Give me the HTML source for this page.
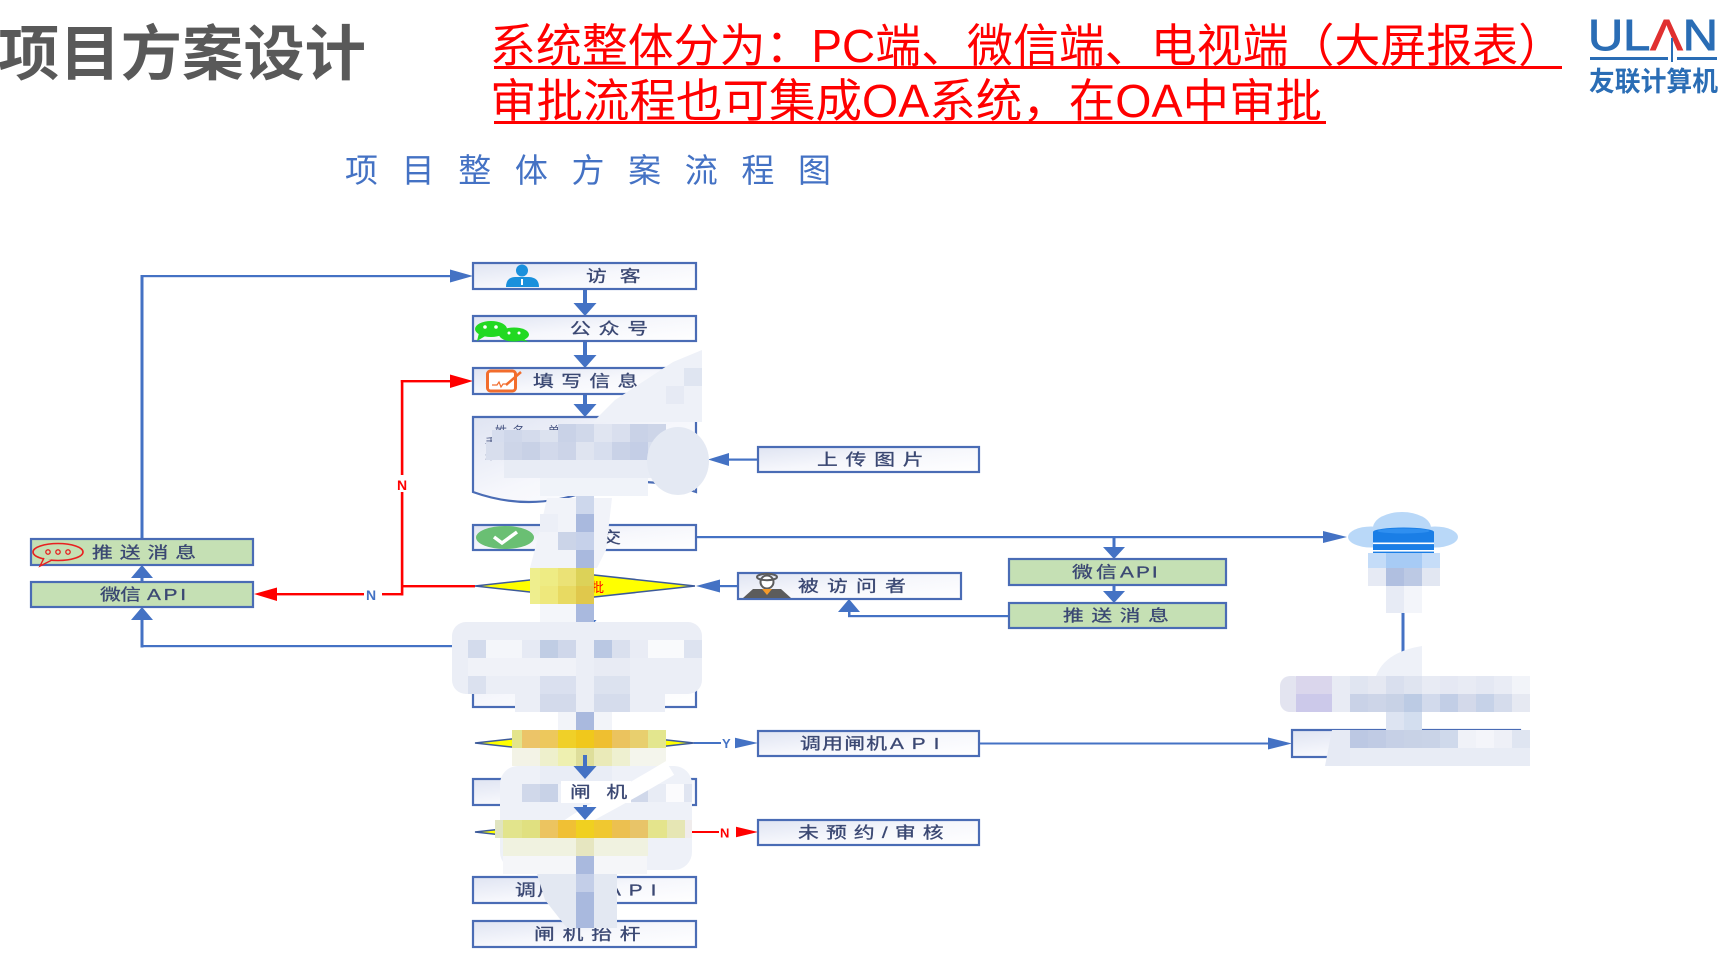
<!DOCTYPE html>
<html><head><meta charset="utf-8"><title>项目方案设计</title>
<style>
html,body{margin:0;padding:0;background:#fff;width:1727px;height:959px;overflow:hidden}
svg{display:block}
text{font-family:"Liberation Sans","Noto Sans CJK SC",sans-serif}
.lb{font-size:16px;fill:#3b4873;stroke:#3b4873;stroke-width:0.3px}
</style></head><body>
<svg width="1727" height="959" viewBox="0 0 1727 959" xmlns="http://www.w3.org/2000/svg">
<defs>
<linearGradient id="bx" x1="0" y1="0" x2="1" y2="1">
<stop offset="0" stop-color="#dfe4f2"/><stop offset="0.5" stop-color="#f6f7fc"/><stop offset="1" stop-color="#ffffff"/>
</linearGradient>
</defs>

<!-- Header -->
<text x="-2" y="75" font-size="60" font-weight="bold" fill="#595959" textLength="368" lengthAdjust="spacingAndGlyphs">项目方案设计</text>
<text x="490" y="62" font-size="46" fill="#ff0000" textLength="1074" lengthAdjust="spacingAndGlyphs">系统整体分为：PC端、微信端、电视端（大屏报表）</text>
<rect x="494" y="66" width="1068" height="3" fill="#ff0000"/>
<text x="490" y="117" font-size="46" fill="#ff0000" textLength="832" lengthAdjust="spacingAndGlyphs">审批流程也可集成OA系统，在OA中审批</text>
<rect x="494" y="121" width="832" height="3" fill="#ff0000"/>

<!-- Logo -->
<text x="1588" y="50" font-size="44" fill="#2a6db5" stroke="#2a6db5" stroke-width="1" textLength="130" lengthAdjust="spacingAndGlyphs">UL<tspan fill="#e03030" stroke="#e03030">Λ</tspan>N</text>
<rect x="1671" y="38" width="2" height="24" fill="#2a6db5"/>
<rect x="1590" y="57" width="78" height="3" fill="#2a6db5"/>
<rect x="1677" y="57" width="40" height="3" fill="#2a6db5"/>
<text x="1589" y="91" font-size="27" font-weight="bold" fill="#2a6db5" textLength="129" lengthAdjust="spacingAndGlyphs">友联计算机</text>

<!-- Subtitle -->
<text x="345" y="182" font-size="33" fill="#4472c4" textLength="486" lengthAdjust="spacing">项目整体方案流程图</text>

<!-- ===== Connectors (blue) ===== -->
<g fill="#4472c4">
  <rect x="583" y="289" width="4" height="14"/><polygon points="573.5,303 596.5,303 585,316"/>
  <rect x="583" y="341" width="4" height="14"/><polygon points="573.5,355 596.5,355 585,368"/>
  <rect x="583" y="394" width="4" height="10"/><polygon points="573.5,404 596.5,404 585,417"/>
  <rect x="583" y="500" width="4" height="12"/><polygon points="573.5,512 596.5,512 585,525"/>
  <rect x="583" y="550" width="4" height="11"/><polygon points="573.5,561 596.5,561 585,574"/>
  <rect x="583" y="598" width="4" height="22"/><polygon points="573.5,620 596.5,620 585,633"/>
  <rect x="583" y="707" width="4" height="11"/><polygon points="573.5,718 596.5,718 585,731"/>
  <rect x="583" y="844" width="4" height="20"/><polygon points="573.5,864 596.5,864 585,877"/>
  <rect x="583" y="903" width="4" height="5"/><polygon points="573.5,908 596.5,908 585,921"/>
  <rect x="140.5" y="275" width="3" height="265"/>
  <rect x="140.5" y="275" width="310" height="2.2"/>
  <polygon points="450,269.5 450,282.5 473,276"/>
  <rect x="140.5" y="577" width="3" height="6"/>
  <polygon points="131,578 153,578 142,565"/>
  <rect x="140.5" y="619" width="3" height="28.5"/>
  <rect x="140.5" y="645" width="333" height="2.2"/>
  <polygon points="131,620 153,620 142,607"/>
  <rect x="728" y="458.5" width="30" height="2.2"/>
  <polygon points="729,453 729,466 708,459.5"/>
  <rect x="718" y="585" width="20" height="2.2"/>
  <polygon points="720,579.5 720,592.5 696,586"/>
  <rect x="848" y="615" width="161" height="2.2"/>
  <rect x="848" y="611" width="2.5" height="6"/>
  <polygon points="838,612 860,612 849,599"/>
  <rect x="696" y="536" width="628" height="2.2"/>
  <polygon points="1323,531 1323,543 1347,537"/>
  <rect x="1112.5" y="537" width="3" height="11"/>
  <polygon points="1103,547 1125,547 1114,559"/>
  <rect x="1112.5" y="585" width="3" height="7"/>
  <polygon points="1103,591 1125,591 1114,603"/>
  <rect x="1401.5" y="610" width="3" height="44"/>
  <rect x="694" y="742" width="42" height="2"/>
  <polygon points="734,737.5 734,748.5 758,743"/>
  <rect x="979" y="742.5" width="291" height="2"/>
  <polygon points="1268,737.5 1268,749.5 1292,743.5"/>
</g>

<!-- Red connectors -->
<g fill="#ff0000">
  <rect x="402" y="585" width="73" height="2.4"/>
  <rect x="400.8" y="380" width="2.6" height="215.5"/>
  <rect x="400.8" y="380" width="50" height="2.4"/>
  <polygon points="450,374.5 450,388 473,381"/>
  <rect x="276" y="593" width="127" height="2.4"/>
  <polygon points="277,587.5 277,601 254,594"/>
  <rect x="690" y="831" width="46" height="2"/>
  <polygon points="735,826.5 735,837.5 758,832"/>
</g>
<rect x="395" y="475" width="17" height="17" fill="#fff"/>
<rect x="364" y="588" width="18" height="14" fill="#fff"/>
<rect x="721" y="737" width="14" height="12" fill="#fff"/>
<rect x="719" y="826" width="17" height="12" fill="#fff"/>
<text x="397" y="490" font-size="14" font-weight="bold" fill="#ff0000">N</text>
<text x="366" y="600" font-size="14" font-weight="bold" fill="#4472c4">N</text>
<text x="722" y="748" font-size="13" font-weight="bold" fill="#4472c4">Y</text>
<text x="720" y="837.5" font-size="13" font-weight="bold" fill="#ff0000">N</text>

<!-- ===== Boxes ===== -->
<g stroke="#4a6cb5" stroke-width="2.2">
  <rect x="473" y="263" width="223" height="26" fill="url(#bx)"/>
  <rect x="473" y="316" width="223" height="25" fill="url(#bx)"/>
  <rect x="473" y="368" width="223" height="26" fill="url(#bx)"/>
  <path d="M473,417 H696 V492 Q640,472 585,492 Q529,512 473,492 Z" fill="url(#bx)"/>
  <rect x="473" y="525" width="223" height="25" fill="url(#bx)"/>
  <rect x="473" y="633" width="223" height="74" fill="url(#bx)"/>
  <rect x="473" y="779" width="223" height="26" fill="url(#bx)"/>
  <rect x="473" y="877" width="223" height="26" fill="url(#bx)"/>
  <rect x="473" y="921" width="223" height="26" fill="url(#bx)"/>
  <rect x="758" y="447" width="221" height="25" fill="url(#bx)"/>
  <rect x="738" y="573" width="223" height="26" fill="url(#bx)"/>
  <rect x="758" y="731" width="221" height="25" fill="url(#bx)"/>
  <rect x="758" y="820" width="221" height="25" fill="url(#bx)"/>
  <rect x="1292" y="730" width="228" height="27" fill="url(#bx)"/>
  <rect x="31" y="539" width="222" height="26" fill="#c5e0b4"/>
  <rect x="31" y="582" width="222" height="25" fill="#c5e0b4"/>
  <rect x="1009" y="559" width="217" height="26" fill="#c5e0b4"/>
  <rect x="1009" y="603" width="217" height="25" fill="#c5e0b4"/>
</g>
<g fill="#ffff00" stroke="#3c5a9a" stroke-width="1.5">
  <polygon points="475,586 585,574 695,586 585,598"/>
  <polygon points="475,743 585,731 694,743 585,755"/>
  <polygon points="475,832 583,820 690,832 583,844"/>
</g>
<text x="578" y="592" font-size="13" fill="#ff0000">审批</text>
<text x="560" y="748" font-size="13" fill="#ff0000">预约</text>
<text x="562" y="837" font-size="13" fill="#ff0000">通过</text>

<!-- ===== Icons ===== -->
<g fill="#1a90dc">
  <circle cx="522" cy="270.5" r="6"/>
  <path d="M506,287 Q506,277.5 515,277 L529,277 Q539,277.5 539,287 Z"/>
</g>
<rect x="521" y="279" width="2" height="6" fill="#fff"/>
<g fill="#22d922">
  <ellipse cx="491" cy="329" rx="16" ry="8"/>
  <polygon points="479,333 477,341 487,335"/>
  <ellipse cx="514" cy="334.5" rx="15" ry="7"/>
  <polygon points="522,338 528,342 518,340"/>
</g>
<g fill="#fff"><circle cx="485" cy="327" r="1.8"/><circle cx="496" cy="327" r="1.8"/><circle cx="509" cy="333" r="1.5"/><circle cx="519" cy="333" r="1.5"/></g>
<rect x="487.5" y="371" width="28" height="20" rx="3" fill="#fff" stroke="#f26d2d" stroke-width="3"/>
<polyline points="492,385 497,385 499,382 501,387 503,384 506,384" fill="none" stroke="#f26d2d" stroke-width="1.2"/>
<line x1="506" y1="385" x2="521" y2="372" stroke="#f26d2d" stroke-width="2.5"/>
<ellipse cx="505" cy="537.5" rx="29" ry="11.5" fill="#6abf73"/>
<polyline points="494,537 502,543 517,532" fill="none" stroke="#fff" stroke-width="3.5"/>
<path d="M743,598 L753,589 L781,589 L791,598 Z" fill="#5c5c5c"/>
<circle cx="767" cy="582" r="6.5" fill="#fff" stroke="#5c5c5c" stroke-width="2"/>
<ellipse cx="767" cy="577" rx="10" ry="3.2" fill="none" stroke="#5c5c5c" stroke-width="2"/>
<polygon points="762,589 772,589 767,595" fill="#f59a2a"/>
<ellipse cx="58" cy="552" rx="25" ry="8.5" fill="none" stroke="#e82020" stroke-width="1.6"/>
<path d="M44,558 L40,566 L52,560" fill="#c5e0b4" stroke="#e82020" stroke-width="1.4"/>
<g fill="none" stroke="#e82020" stroke-width="1.3"><circle cx="48" cy="552" r="2.2"/><circle cx="58" cy="552" r="2.2"/><circle cx="68" cy="552" r="2.2"/></g>
<g fill="#b9d8f8">
  <ellipse cx="1402" cy="528" rx="29" ry="16"/>
  <ellipse cx="1371" cy="537" rx="23" ry="10.5"/>
  <ellipse cx="1435" cy="537" rx="23" ry="10.5"/>
  <rect x="1370" y="530" width="65" height="17" rx="8"/>
</g>
<rect x="1373" y="532" width="61" height="23" fill="#1a7ee6"/>
<ellipse cx="1403.5" cy="532" rx="30.5" ry="4.5" fill="#1a7ee6"/>
<ellipse cx="1403.5" cy="531" rx="26" ry="2.5" fill="#2f8ff0"/>
<rect x="1373" y="542.5" width="61" height="1.6" fill="#fff"/>
<rect x="1373" y="550" width="61" height="1.6" fill="#fff"/>

<!-- ===== Labels ===== -->
<g class="lb">
<text transform="translate(586,281.5) scale(1.3,1)" textLength="42" lengthAdjust="spacing">访客</text>
<text transform="translate(570,334) scale(1.3,1)" textLength="60" lengthAdjust="spacing">公众号</text>
<text transform="translate(533,386.5) scale(1.3,1)" textLength="81" lengthAdjust="spacing">填写信息</text>
<text transform="translate(817,465) scale(1.3,1)" textLength="82" lengthAdjust="spacing">上传图片</text>
<text transform="translate(798,591.5) scale(1.3,1)" textLength="83" lengthAdjust="spacing">被访问者</text>
<text transform="translate(92,558) scale(1.3,1)" textLength="80" lengthAdjust="spacing">推送消息</text>
<text transform="translate(100,600) scale(1.3,1)" textLength="31.5" lengthAdjust="spacing">微信</text>
<text transform="translate(147,600) scale(1.3,1)" textLength="30" lengthAdjust="spacing">API</text>
<text transform="translate(1072,577.5) scale(1.3,1)" textLength="34.5" lengthAdjust="spacing">微信</text>
<text transform="translate(1120,577.5) scale(1.3,1)" textLength="29" lengthAdjust="spacing">API</text>
<text transform="translate(1063,621) scale(1.3,1)" textLength="81.5" lengthAdjust="spacing">推送消息</text>
<text transform="translate(800,749) scale(1.3,1)" textLength="67" lengthAdjust="spacing">调用闸机</text>
<text transform="translate(890,749) scale(1.3,1)" textLength="38" lengthAdjust="spacing">API</text>
<text transform="translate(798,838) scale(1.3,1)" textLength="112" lengthAdjust="spacing">未预约/审核</text>
<text transform="translate(534,939.5) scale(1.3,1)" textLength="82" lengthAdjust="spacing">闸机抬杆</text>
<text transform="translate(515,895.5) scale(1.3,1)" textLength="67" lengthAdjust="spacing">调用闸机</text>
<text transform="translate(607,895.5) scale(1.3,1)" textLength="38" lengthAdjust="spacing">API</text>
<text transform="translate(573,543) scale(1.3,1)" textLength="37" lengthAdjust="spacing">提交</text>
</g>
<g font-size="12" fill="#43517f">
<text x="495" y="435" textLength="100" lengthAdjust="spacing">姓名、单位、</text>
<text x="485" y="447">手机号、来访事由、</text>
<text x="485" y="459">来访时间、车牌</text>
</g>

<!-- ===== Mosaic (blur) ===== -->
<polygon points="702,350 702,422 593,422 615,400 673,362" fill="#eef1f8"/>
<rect x="684" y="368" width="18" height="18" fill="#dfe5f1"/>
<rect x="666" y="386" width="18" height="18" fill="#e6eaf4"/>
<g>
<rect x="492" y="430" width="12" height="12" fill="#d6ddee"/>
<rect x="504" y="430" width="18" height="12" fill="#cfd7ea"/>
<rect x="522" y="430" width="18" height="12" fill="#d4dbec"/>
<rect x="540" y="430" width="18" height="12" fill="#dce2ef"/>
<rect x="558" y="424" width="18" height="18" fill="#c9d2e7"/>
<rect x="576" y="424" width="18" height="18" fill="#d0d8ea"/>
<rect x="594" y="424" width="18" height="18" fill="#e0e5f1"/>
<rect x="612" y="424" width="18" height="18" fill="#d9dfee"/>
<rect x="630" y="424" width="18" height="18" fill="#c9d2e7"/>
<rect x="648" y="424" width="18" height="18" fill="#cdd5e8"/>
<rect x="486" y="442" width="18" height="18" fill="#d8deed"/>
<rect x="504" y="442" width="18" height="18" fill="#cdd5e8"/>
<rect x="522" y="442" width="18" height="18" fill="#c8d1e6"/>
<rect x="540" y="442" width="18" height="18" fill="#d2d9eb"/>
<rect x="558" y="442" width="18" height="18" fill="#ccd4e8"/>
<rect x="576" y="442" width="18" height="18" fill="#dfe4f0"/>
<rect x="594" y="442" width="18" height="18" fill="#d7deee"/>
<rect x="612" y="442" width="18" height="18" fill="#c9d2e7"/>
<rect x="630" y="442" width="18" height="18" fill="#c4cee6"/>
<rect x="648" y="442" width="18" height="18" fill="#d8dfee"/>
<rect x="504" y="460" width="162" height="18" fill="#e8ecf5"/>
<rect x="540" y="478" width="108" height="18" fill="#f0f3f9"/>
</g>
<ellipse cx="678" cy="461" rx="31" ry="34" fill="#e4e9f3"/>
<polygon points="547,498 612,498 606,550 597,568 530,568 540,530" fill="#f1f3f9"/>
<rect x="558" y="532" width="18" height="18" fill="#cbd4e8"/>
<rect x="540" y="514" width="18" height="18" fill="#eceff7"/>
<rect x="576" y="496" width="18" height="432" fill="#a9b9de"/>
<rect x="576" y="496" width="18" height="18" fill="#cdd7ec"/>
<rect x="576" y="532" width="18" height="18" fill="#c6d1ea"/>
<rect x="530" y="568" width="10" height="36" fill="#eeee8e"/>
<rect x="540" y="568" width="18" height="18" fill="#eeec84"/>
<rect x="540" y="586" width="18" height="18" fill="#eee87c"/>
<rect x="558" y="568" width="18" height="18" fill="#ebe276"/>
<rect x="558" y="586" width="18" height="18" fill="#e8da62"/>
<rect x="576" y="568" width="18" height="18" fill="#dcd258"/>
<rect x="576" y="586" width="18" height="18" fill="#e0c84c"/>
<rect x="540" y="604" width="36" height="18" fill="#f4f6fa"/>
<rect x="452" y="622" width="250" height="72" rx="14" fill="#ebeef6"/>
<rect x="515" y="690" width="150" height="22" fill="#ebeef6"/>
<rect x="468" y="640" width="18" height="18" fill="#d3dbec"/>
<rect x="486" y="640" width="36" height="18" fill="#f4f6fa"/>
<rect x="522" y="640" width="18" height="18" fill="#e6eaf4"/>
<rect x="540" y="640" width="18" height="18" fill="#c0cde4"/>
<rect x="558" y="640" width="18" height="18" fill="#cfd7ea"/>
<rect x="594" y="640" width="18" height="18" fill="#bac8e3"/>
<rect x="612" y="640" width="18" height="18" fill="#dae0ee"/>
<rect x="630" y="640" width="18" height="18" fill="#e9ecf5"/>
<rect x="648" y="640" width="36" height="18" fill="#f9fafc"/>
<rect x="684" y="640" width="18" height="18" fill="#dde3f0"/>
<rect x="468" y="658" width="108" height="18" fill="#f0f2f8"/>
<rect x="594" y="658" width="36" height="18" fill="#e8ebf4"/>
<rect x="468" y="676" width="18" height="18" fill="#dbe1ef"/>
<rect x="540" y="676" width="36" height="18" fill="#dae0ef"/>
<rect x="594" y="676" width="36" height="18" fill="#dce2ef"/>
<rect x="540" y="694" width="36" height="18" fill="#d3daeb"/>
<rect x="594" y="694" width="36" height="18" fill="#d5dcec"/>
<rect x="558" y="712" width="18" height="18" fill="#f2f4f9"/>
<rect x="594" y="712" width="18" height="18" fill="#f2f4f9"/>
<rect x="512" y="730" width="10" height="18" fill="#e3e48c"/>
<rect x="522" y="730" width="18" height="18" fill="#ecc468"/>
<rect x="540" y="730" width="18" height="18" fill="#edc85c"/>
<rect x="558" y="730" width="18" height="18" fill="#f0d028"/>
<rect x="576" y="730" width="18" height="18" fill="#f0c81c"/>
<rect x="594" y="730" width="18" height="18" fill="#efbf30"/>
<rect x="612" y="730" width="18" height="18" fill="#ebc35e"/>
<rect x="630" y="730" width="18" height="18" fill="#e8cf6e"/>
<rect x="648" y="730" width="18" height="18" fill="#e3e68e"/>
<rect x="512" y="748" width="28" height="18" fill="#f3f3e6"/>
<rect x="540" y="748" width="18" height="18" fill="#eef0cc"/>
<rect x="558" y="748" width="18" height="18" fill="#eef0b0"/>
<rect x="576" y="748" width="18" height="18" fill="#dede9a"/>
<rect x="594" y="748" width="18" height="18" fill="#eaeab8"/>
<rect x="612" y="748" width="18" height="18" fill="#eef0d0"/>
<rect x="630" y="748" width="36" height="18" fill="#f4f5ec"/>
<rect x="500" y="766" width="192" height="104" rx="18" fill="#eef1f8"/>
<rect x="540" y="766" width="72" height="18" fill="#e9edf6"/>
<rect x="522" y="784" width="18" height="18" fill="#d0d8ea"/>
<rect x="540" y="784" width="18" height="18" fill="#c8d2e7"/>
<rect x="627" y="784" width="21" height="18" fill="#d0d8ea"/>
<rect x="648" y="784" width="18" height="18" fill="#e8ecf5"/>
<rect x="666" y="784" width="18" height="18" fill="#fbfbfd"/>
<rect x="684" y="784" width="8" height="18" fill="#e0e5f1"/>
<path d="M670,768 Q630,792 596,810 Q575,822 562,832" fill="none" stroke="#ffffff" stroke-width="16"/>
<rect x="561" y="781" width="70" height="22" fill="#ffffff"/>
<rect x="495" y="820" width="8" height="18" fill="#e0e4c0"/>
<rect x="503" y="820" width="19" height="18" fill="#e2e48c"/>
<rect x="522" y="820" width="18" height="18" fill="#e0e080"/>
<rect x="540" y="820" width="18" height="18" fill="#ecc460"/>
<rect x="558" y="820" width="18" height="18" fill="#f0c034"/>
<rect x="576" y="820" width="18" height="18" fill="#f0d020"/>
<rect x="594" y="820" width="18" height="18" fill="#f0c830"/>
<rect x="612" y="820" width="18" height="18" fill="#ecc050"/>
<rect x="630" y="820" width="18" height="18" fill="#e8c468"/>
<rect x="648" y="820" width="19" height="18" fill="#e4e48c"/>
<rect x="667" y="820" width="18" height="18" fill="#e6e6b4"/>
<rect x="685" y="820" width="7" height="18" fill="#f0ecec"/>
<rect x="503" y="838" width="145" height="18" fill="#f0f2e0"/>
<rect x="576" y="838" width="18" height="18" fill="#e6e6c0"/>
<rect x="503" y="856" width="144" height="18" fill="#f5f6f9"/>
<polygon points="537,874 617,874 617,928 567,928 545,900" fill="#e3e8f2"/>
<rect x="576" y="856" width="18" height="72" fill="#a9b9de"/>
<rect x="576" y="874" width="18" height="18" fill="#c3cee8"/>

<text class="lb" transform="translate(570,797.5) scale(1.3,1)" textLength="44" lengthAdjust="spacing">闸机</text>
<g fill="#4472c4">
  <rect x="583" y="755" width="4" height="11"/><polygon points="573.5,766 596.5,766 585,779"/>
  <rect x="583" y="805" width="4" height="3"/><polygon points="573.5,807 596.5,807 585,820"/>
</g>

<!-- right mosaic -->
<rect x="1368" y="553" width="18" height="15" fill="#c4dcf8"/>
<rect x="1386" y="553" width="36" height="15" fill="#a7cbf5"/>
<rect x="1422" y="553" width="18" height="15" fill="#c6ddf8"/>
<rect x="1368" y="568" width="18" height="18" fill="#e6eaf4"/>
<rect x="1386" y="568" width="18" height="18" fill="#b0bfe0"/>
<rect x="1404" y="568" width="18" height="18" fill="#bcc9e4"/>
<rect x="1422" y="568" width="18" height="18" fill="#e2e7f2"/>
<rect x="1386" y="586" width="18" height="27" fill="#e7ebf5"/>
<rect x="1404" y="586" width="18" height="27" fill="#f3f5fa"/>
<path d="M1376,676 Q1385,652 1422,646 L1422,676 Z" fill="#eef1f8"/>
<rect x="1280" y="676" width="24" height="36" rx="10" fill="#e3e4f0"/>
<g>
<rect x="1296" y="676" width="36" height="18" fill="#dad6ec"/>
<rect x="1332" y="676" width="18" height="18" fill="#e8ebf4"/>
<rect x="1350" y="676" width="18" height="18" fill="#e0e5f1"/>
<rect x="1368" y="676" width="18" height="18" fill="#e5e8f2"/>
<rect x="1386" y="676" width="18" height="18" fill="#d9dfee"/>
<rect x="1404" y="676" width="18" height="18" fill="#dfe4f0"/>
<rect x="1422" y="676" width="18" height="18" fill="#e8ebf4"/>
<rect x="1440" y="676" width="18" height="18" fill="#e5e8f3"/>
<rect x="1458" y="676" width="18" height="18" fill="#e8ebf4"/>
<rect x="1476" y="676" width="18" height="18" fill="#e4e8f3"/>
<rect x="1494" y="676" width="18" height="18" fill="#e9ecf5"/>
<rect x="1512" y="676" width="18" height="18" fill="#f2f4f9"/>
<rect x="1296" y="694" width="36" height="18" fill="#ccc9ea"/>
<rect x="1332" y="694" width="18" height="18" fill="#e8ebf4"/>
<rect x="1350" y="694" width="18" height="18" fill="#c9d2e7"/>
<rect x="1368" y="694" width="18" height="18" fill="#cdd5e8"/>
<rect x="1386" y="694" width="18" height="18" fill="#c8d2e6"/>
<rect x="1404" y="694" width="18" height="18" fill="#bccbe4"/>
<rect x="1422" y="694" width="18" height="18" fill="#d2daec"/>
<rect x="1440" y="694" width="18" height="18" fill="#c2cee6"/>
<rect x="1458" y="694" width="18" height="18" fill="#d3d9ea"/>
<rect x="1476" y="694" width="18" height="18" fill="#c6d2e8"/>
<rect x="1494" y="694" width="18" height="18" fill="#d5dcec"/>
<rect x="1512" y="694" width="18" height="18" fill="#e6e9f2"/>
<rect x="1386" y="712" width="18" height="18" fill="#dde4f2"/>
<rect x="1404" y="712" width="18" height="18" fill="#d3deef"/>
<polygon points="1332,730 1350,730 1350,766 1325,766" fill="#e6eaf4"/>
<rect x="1350" y="730" width="18" height="18" fill="#bcc8e3"/>
<rect x="1368" y="730" width="18" height="18" fill="#c0cbe4"/>
<rect x="1386" y="730" width="18" height="18" fill="#c6d0e6"/>
<rect x="1404" y="730" width="18" height="18" fill="#c8d2e6"/>
<rect x="1422" y="730" width="18" height="18" fill="#c9d3e7"/>
<rect x="1440" y="730" width="18" height="18" fill="#cfd9eb"/>
<rect x="1458" y="730" width="18" height="18" fill="#f0f2f8"/>
<rect x="1476" y="730" width="18" height="18" fill="#f4f5fa"/>
<rect x="1494" y="730" width="18" height="18" fill="#eef0f7"/>
<rect x="1512" y="730" width="18" height="18" fill="#dfe5f1"/>
<rect x="1350" y="748" width="180" height="18" fill="#e8ecf5"/>
</g>
</svg>
</body></html>
